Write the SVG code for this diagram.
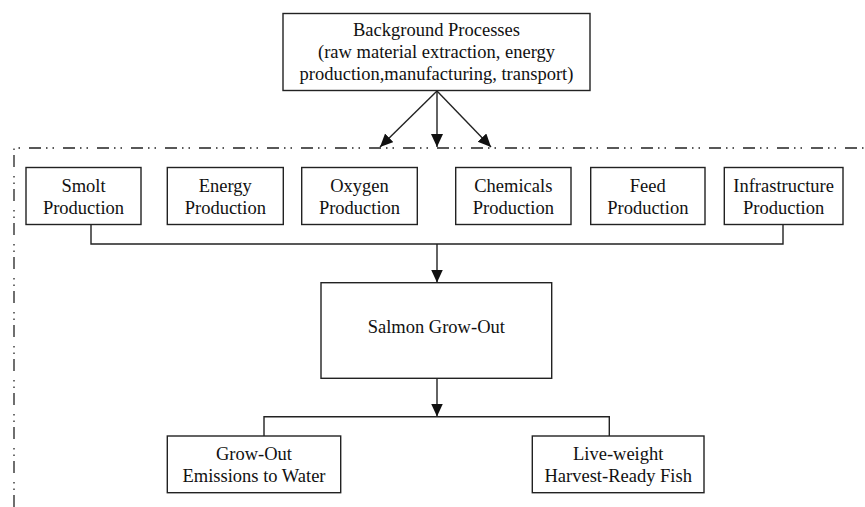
<svg xmlns="http://www.w3.org/2000/svg" width="865" height="507" viewBox="0 0 865 507">
<style>
.box{fill:#fff;stroke:#222;stroke-width:1.4}
.t{font-family:"Liberation Serif","Times New Roman",serif;font-size:18.5px;fill:#111;text-anchor:middle}
.c{fill:none;stroke:#222;stroke-width:1.4}
.bd{fill:none;stroke:#222;stroke-width:1.3;stroke-dasharray:12 5 1.5 5 1.5 9}
</style>
<defs>
<marker id="ah" markerUnits="userSpaceOnUse" markerWidth="14" markerHeight="13" refX="13" refY="6" orient="auto">
<path d="M0,0 L13,6 L0,12 Z" fill="#111"/>
</marker>
</defs>
<rect width="865" height="507" fill="#fff"/>
<g id="boundary">
<path class="bd" d="M14,507 L14,148 L865,148"/>
</g>
<g id="connectors">
<line class="c" x1="437" y1="91" x2="380" y2="147" marker-end="url(#ah)"/>
<line class="c" x1="437" y1="91" x2="437" y2="147" marker-end="url(#ah)"/>
<line class="c" x1="437" y1="91" x2="491" y2="147" marker-end="url(#ah)"/>
<path class="c" d="M91,225 L91,244 L783,244 L783,225"/>
<line class="c" x1="437" y1="244" x2="437" y2="282.5" marker-end="url(#ah)"/>
<line class="c" x1="437" y1="378.5" x2="437" y2="416.5" marker-end="url(#ah)"/>
<path class="c" d="M264,436 L264,416.7 L609.3,416.7 L609.3,436"/>
</g>
<g id="background">
<rect class="box" x="283" y="13.5" width="307" height="77"/>
<text class="t" x="436.5" y="35.5">Background Processes</text>
<text class="t" x="436.5" y="57.5">(raw material extraction, energy</text>
<text class="t" x="436.5" y="79.5">production,manufacturing, transport)</text>
</g>
<g id="smolt">
<rect class="box" x="26" y="167.5" width="115" height="57"/>
<text class="t" x="83.5" y="192.3">Smolt</text>
<text class="t" x="83.5" y="213.5">Production</text>
</g>
<g id="energy">
<rect class="box" x="167.3" y="167.5" width="116" height="57"/>
<text class="t" x="225.3" y="192.3">Energy</text>
<text class="t" x="225.3" y="213.5">Production</text>
</g>
<g id="oxygen">
<rect class="box" x="301.7" y="167.5" width="115.6" height="57"/>
<text class="t" x="359.5" y="192.3">Oxygen</text>
<text class="t" x="359.5" y="213.5">Production</text>
</g>
<g id="chemicals">
<rect class="box" x="455.7" y="167.5" width="115.3" height="57"/>
<text class="t" x="513.3" y="192.3">Chemicals</text>
<text class="t" x="513.3" y="213.5">Production</text>
</g>
<g id="feed">
<rect class="box" x="590.7" y="167.5" width="114.3" height="57"/>
<text class="t" x="647.8" y="192.3">Feed</text>
<text class="t" x="647.8" y="213.5">Production</text>
</g>
<g id="infrastructure">
<rect class="box" x="724.3" y="167.5" width="118.7" height="57"/>
<text class="t" x="783.6" y="192.3">Infrastructure</text>
<text class="t" x="783.6" y="213.5">Production</text>
</g>
<g id="salmon">
<rect class="box" x="321" y="282.7" width="230.7" height="95.6"/>
<text class="t" x="436.3" y="333">Salmon Grow-Out</text>
</g>
<g id="emissions">
<rect class="box" x="167.3" y="436" width="173.4" height="56.7"/>
<text class="t" x="254" y="459.5">Grow-Out</text>
<text class="t" x="254" y="482">Emissions to Water</text>
</g>
<g id="harvest">
<rect class="box" x="532.3" y="436" width="171.7" height="56.7"/>
<text class="t" x="618.2" y="459.5">Live-weight</text>
<text class="t" x="618.2" y="482">Harvest-Ready Fish</text>
</g>
</svg>
